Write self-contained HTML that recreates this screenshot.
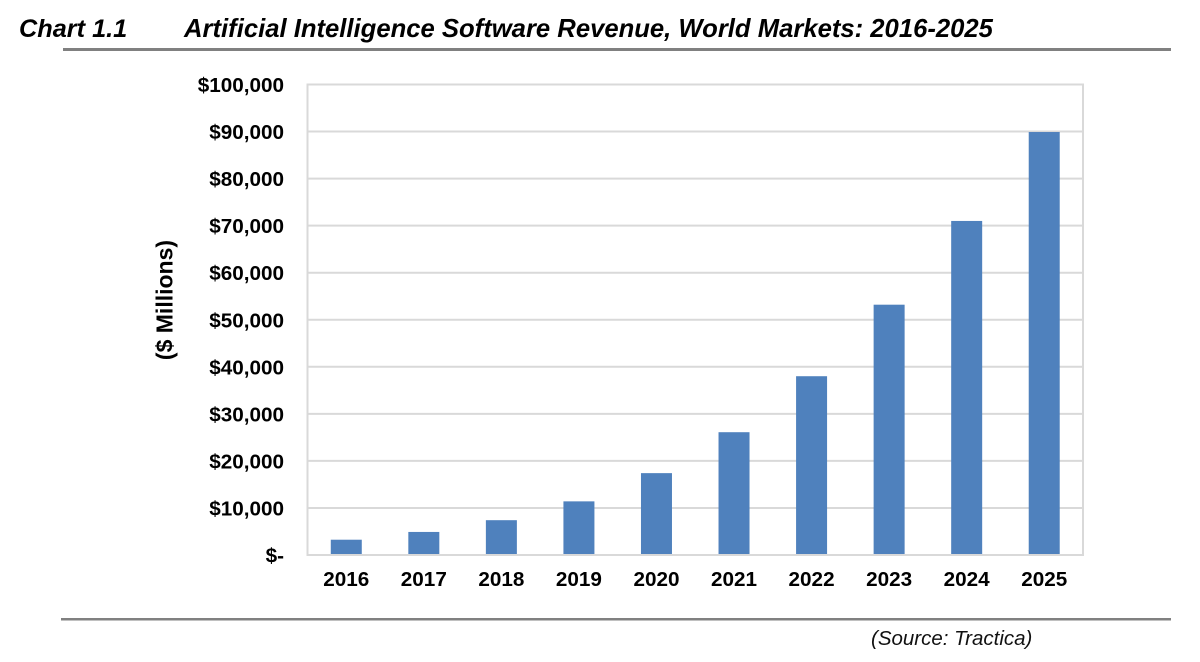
<!DOCTYPE html>
<html lang="en">
<head>
<meta charset="utf-8">
<title>Artificial Intelligence Software Revenue</title>
<style>
html,body{margin:0;padding:0;background:#fff;}
svg{display:block;font-family:"Liberation Sans",Arial,sans-serif;}
</style>
</head>
<body>
<svg id="chart" width="1200" height="662" viewBox="0 0 1200 662" xmlns="http://www.w3.org/2000/svg">
  <rect x="0" y="0" width="1200" height="662" fill="#fff"/>
  <text x="19" y="37" font-size="25.3" font-weight="bold" font-style="italic" fill="#000">Chart 1.1</text>
  <text x="184" y="37" font-size="25.65" font-weight="bold" font-style="italic" fill="#000">Artificial Intelligence Software Revenue, World Markets: 2016-2025</text>
  <rect x="63" y="48" width="1108" height="3" fill="#808080"/>
  <rect x="61" y="618" width="1110" height="2.5" fill="#808080"/>
  <text x="871" y="645" font-size="20.5" font-style="italic" fill="#111">(Source: Tractica)</text>
  <text transform="translate(172.5,300) rotate(-90)" text-anchor="middle" font-size="23" font-weight="bold" fill="#000">($ Millions)</text>
  <g id="gridlines"></g>
  <g id="bars"></g>
  <g id="y-labels"></g>
  <g id="x-labels"></g>
</svg>
<script>
const categories = ['2016','2017','2018','2019','2020','2021','2022','2023','2024','2025'];
const revenue = [3250, 4900, 7400, 11400, 17400, 26100, 38000, 53200, 71000, 89900];
const tickValues = [0, 10000, 20000, 30000, 40000, 50000, 60000, 70000, 80000, 90000, 100000];
const tickLabels = ['$-', '$10,000', '$20,000', '$30,000', '$40,000', '$50,000', '$60,000', '$70,000', '$80,000', '$90,000', '$100,000'];

const NS = 'http://www.w3.org/2000/svg';
const plotLeft = 307.5, plotRight = 1083, plotTop = 84.5, plotBottom = 555;
const maxValue = 100000;
const barWidth = 31;
function yScale(v) { return plotBottom - (v / maxValue) * (plotBottom - plotTop); }
function xCenter(i) { return plotLeft + (i + 0.5) * (plotRight - plotLeft) / categories.length; }
function make(tag, attrs) {
  const el = document.createElementNS(NS, tag);
  for (const k in attrs) el.setAttribute(k, attrs[k]);
  return el;
}
const gridG = document.getElementById('gridlines');
const barsG = document.getElementById('bars');
const yG = document.getElementById('y-labels');
const xG = document.getElementById('x-labels');

tickValues.forEach(function (v, i) {
  const y = yScale(v);
  const line = make('line', {x1: plotLeft, x2: plotRight, y1: y, y2: y, stroke: '#d9d9d9', 'stroke-width': 2});
  
  
  gridG.appendChild(line);
  const label = make('text', {x: 284, y: y + 7.5, 'text-anchor': 'end', 'font-size': 20.7, 'font-weight': 'bold', fill: '#000'});
  
  
  label.textContent = tickLabels[i];
  yG.appendChild(label);
});

[plotLeft, plotRight].forEach(function (x) {
  const line = make('line', {x1: x, x2: x, y1: plotTop - 1, y2: plotBottom + 1, stroke: '#d9d9d9', 'stroke-width': 2});
  
  
  gridG.appendChild(line);
});

categories.forEach(function (c, i) {
  const top = yScale(revenue[i]);
  const rect = make('rect', {x: xCenter(i) - barWidth / 2, y: top, width: barWidth, height: plotBottom - 1 - top, fill: '#4f81bd'});
  
  
  barsG.appendChild(rect);
  const label = make('text', {x: xCenter(i), y: 586, 'text-anchor': 'middle', 'font-size': 20.7, 'font-weight': 'bold', fill: '#000'});
  
  
  label.textContent = c;
  xG.appendChild(label);
});
</script>
</body>
</html>
